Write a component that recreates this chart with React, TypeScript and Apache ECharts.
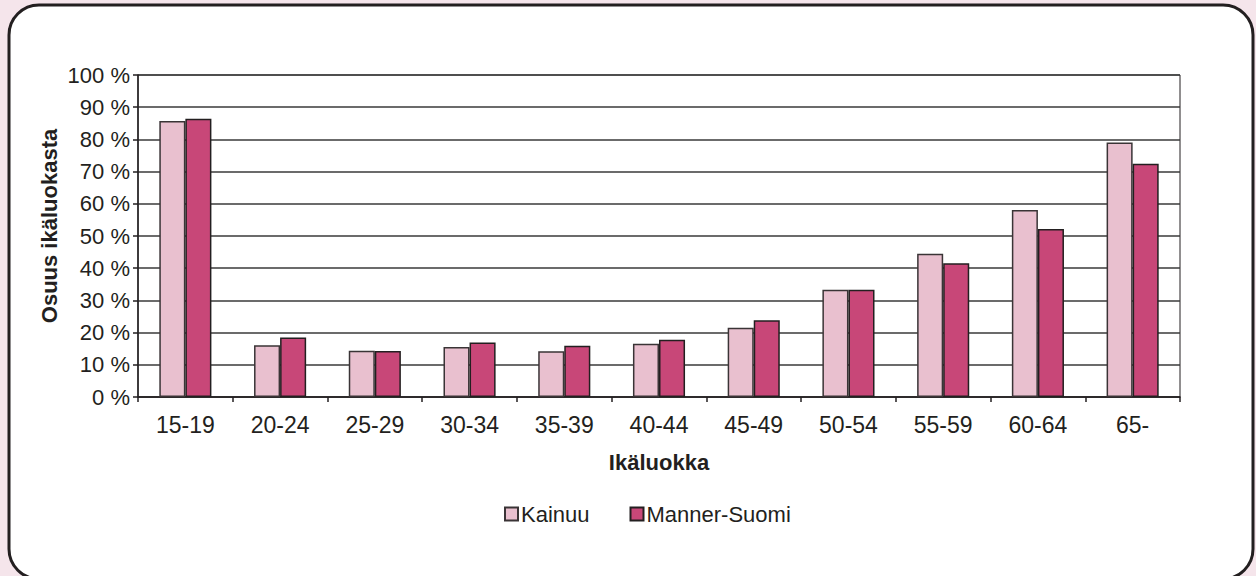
import React, { useEffect, useRef } from "react";
import * as echarts from "echarts";

const categories = ["15-19", "20-24", "25-29", "30-34", "35-39", "40-44", "45-49", "50-54", "55-59", "60-64", "65-"];
const kainuu = [85.7, 16.1, 14.4, 15.5, 14.2, 16.5, 21.5, 33.3, 44.5, 58.1, 79.0];
const mannerSuomi = [86.4, 18.5, 14.3, 16.9, 15.9, 17.8, 23.8, 33.3, 41.5, 52.2, 72.4];
const seriesNames = ["Kainuu", "Manner-Suomi"];
const yAxisTitle = "Osuus ikäluokasta";
const xAxisTitle = "Ikäluokka";

const FONT = "'Liberation Sans', Arial, Helvetica, sans-serif";
const TEXT = "#231f20";

export default function App() {
  const ref = useRef<HTMLDivElement>(null);
  useEffect(() => {
    if (!ref.current) return;
    const chart = echarts.init(ref.current, undefined, { renderer: "svg" });
    chart.setOption({
      animation: false,
      backgroundColor: "#f5e5eb",
      textStyle: { fontFamily: FONT, color: TEXT },
      graphic: [
        {
          type: "rect",
          z: -10,
          shape: { x: 9, y: 5, width: 1244, height: 574, r: 30 },
          style: { fill: "#ffffff", stroke: TEXT, lineWidth: 3 },
        },
        {
          type: "text",
          z: 10,
          x: 49,
          y: 226,
          rotation: Math.PI / 2,
          style: {
            text: yAxisTitle,
            fontFamily: FONT,
            fontSize: 22,
            fontWeight: "bold",
            fill: TEXT,
            align: "center",
            verticalAlign: "middle",
          },
        },
      ],
      legend: {
        data: seriesNames,
        left: 504,
        top: 503,
        padding: 0,
        itemWidth: 13,
        itemHeight: 13,
        itemGap: 40,
        icon: "rect",
        textStyle: { fontFamily: FONT, fontSize: 22, color: TEXT, padding: [0, 0, 0, -2] },
      },
      grid: {
        left: 138,
        right: 76,
        top: 75,
        bottom: 179,
        show: true,
        borderColor: TEXT,
        borderWidth: 1,
        backgroundColor: "transparent",
      },
      xAxis: {
        type: "category",
        data: categories,
        name: xAxisTitle,
        nameLocation: "middle",
        nameGap: 54,
        nameTextStyle: { fontFamily: FONT, fontSize: 22, fontWeight: "bold", color: TEXT },
        axisLine: { lineStyle: { color: TEXT, width: 1.5 } },
        axisTick: { show: true, length: 5, lineStyle: { color: TEXT, width: 1.5 } },
        axisLabel: { fontFamily: FONT, fontSize: 23, color: TEXT, margin: 16 },
      },
      yAxis: {
        type: "value",
        min: 0,
        max: 100,
        interval: 10,
        axisLine: { show: true, lineStyle: { color: TEXT, width: 1.5 } },
        axisTick: { show: true, length: 5, lineStyle: { color: TEXT, width: 1.5 } },
        axisLabel: { fontFamily: FONT, fontSize: 22, color: TEXT, margin: 8, formatter: "{value} %" },
        splitLine: { show: true, lineStyle: { color: "#3a3a3a", width: 1.5 } },
      },
      series: [
        {
          name: seriesNames[0],
          type: "bar",
          data: kainuu,
          barGap: "0%",
          barCategoryGap: "45%",
          itemStyle: { color: "#e9c0cf", borderColor: "#3a3436", borderWidth: 1.5 },
        },
        {
          name: seriesNames[1],
          type: "bar",
          data: mannerSuomi,
          barGap: "0%",
          barCategoryGap: "45%",
          itemStyle: { color: "#c84778", borderColor: TEXT, borderWidth: 1.5 },
        },
      ],
    });
    return () => chart.dispose();
  }, []);
  return (
    <div
      ref={ref}
      style={{ position: "fixed", left: 0, top: 0, width: 1256, height: 576 }}
    />
  );
}
